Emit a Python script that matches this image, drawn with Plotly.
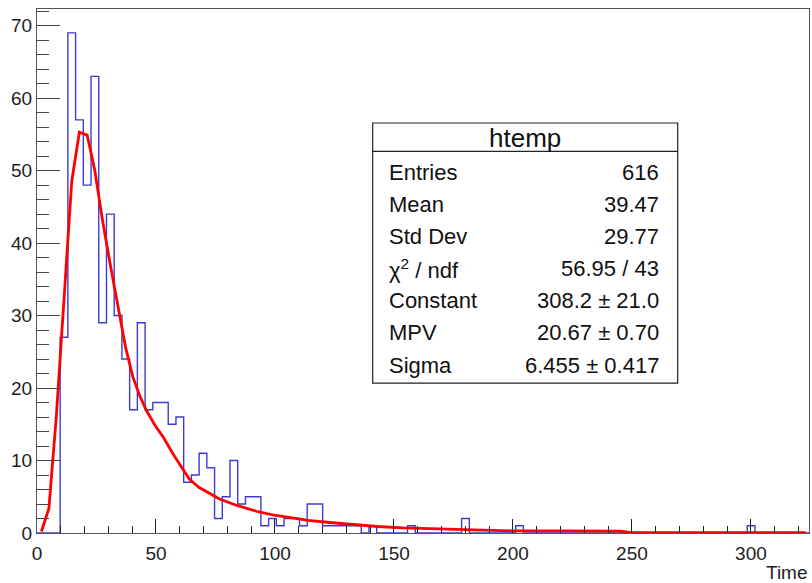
import numpy as np
import plotly.graph_objects as go

# ---------------- data ----------------
x_min, x_max, n_bins = 0.0, 324.4, 100
counts = [0, 0, 0, 27, 69, 57, 48, 63, 29, 44,
          30, 24, 17, 29, 17, 18, 18, 15, 16, 7,
          8, 11, 9, 2, 5, 10, 4, 5, 5, 1,
          2, 1, 2, 2, 1, 4, 4, 1, 1, 1,
          1, 1, 0, 1, 0, 0, 0, 0, 1, 0,
          0, 0, 0, 0, 0, 2, 0, 0, 0, 0,
          0, 0, 1, 0, 0, 0, 0, 0, 0, 0,
          0, 0, 0, 0, 0, 0, 0, 0, 0, 0,
          0, 0, 0, 0, 0, 0, 0, 0, 0, 0,
          0, 0, 1, 0, 0, 0, 0, 0, 0, 0]

fit_x = [1.85, 5.0, 8.1, 11.4, 14.6, 17.8, 21.1, 24.3, 27.6, 30.8, 34.1, 37.3,
         40.3, 43.2, 46.0, 49.5, 52.9, 57.0, 61.3, 64.1, 68.0, 72.6, 76.7, 84.0,
         92.2, 99.0, 106.2, 114.0, 122.9, 132.8, 143.0, 153.8, 170.0, 188.8,
         199.0, 220.0, 245.0, 250.0, 280.0, 323.0]
fit_y = [0.2, 3.4, 16.0, 32.5, 48.5, 55.3, 54.9, 50.0, 43.0, 37.0, 31.0, 25.5,
         21.5, 18.9, 16.9, 14.9, 13.3, 11.0, 8.8, 7.4, 6.3, 5.5, 4.7, 3.8,
         3.0, 2.5, 2.1, 1.75, 1.45, 1.15, 0.9, 0.7, 0.55, 0.46,
         0.3, 0.28, 0.25, 0.06, 0.05, 0.04]

x_ticks = [0, 50, 100, 150, 200, 250, 300]
y_ticks = [0, 10, 20, 30, 40, 50, 60, 70]
x_title = "Time"

stats_title = "htemp"
stats_names = ["Entries", "Mean", "Std Dev", "χ<sup>2</sup> / ndf", "Constant", "MPV", "Sigma"]
stats_values = ["616", "39.47", "29.77", "56.95 / 43", "308.2 ± 21.0", "20.67 ± 0.70", "6.455 ± 0.417"]

# ---------------- figure ----------------
W, H = 812, 583
L, R, T, B = 37.3, 2.7, 9.3, 49.7
PW, PH = W - L - R, H - T - B

def px(x):
    return (x - L) / PW

def py(y):
    return (H - B - y) / PH

edges = np.linspace(x_min, x_max, n_bins + 1)
step_x = list(edges)
step_y = list(counts) + [counts[-1]]

fig = go.Figure()
fig.add_trace(go.Scatter(x=step_x, y=step_y, mode="lines", line_shape="hv",
                         line=dict(color="#3c3cd4", width=1.4), hoverinfo="skip"))
fig.add_trace(go.Scatter(x=fit_x, y=fit_y, mode="lines",
                         line=dict(color="#ff0000", width=2.8), hoverinfo="skip"))

font_family = "Liberation Sans, Arial, Helvetica, sans-serif"
fig.update_layout(
    width=W, height=H,
    margin=dict(l=L, r=R, t=T, b=B, pad=0),
    paper_bgcolor="white", plot_bgcolor="white",
    showlegend=False,
    font=dict(family=font_family, color="#222222", size=19),
    xaxis=dict(range=[x_min, x_max], tickvals=x_ticks, ticks="inside", ticklen=14,
               tickcolor="#222", tickwidth=1, ticklabelstandoff=3,
               minor=dict(dtick=10, tick0=0, ticks="inside", ticklen=7, tickcolor="#222"),
               showline=True, linecolor="#555", linewidth=1.2, mirror=True,
               showgrid=False, zeroline=False, tickfont=dict(size=19)),
    yaxis=dict(range=[0, 72.3], tickvals=y_ticks, ticks="inside", ticklen=23,
               tickcolor="#444", tickwidth=1,
               minor=dict(dtick=2, tick0=0, ticks="inside", ticklen=12, tickcolor="#444"),
               showline=True, linecolor="#555", linewidth=1.2, mirror=True,
               showgrid=False, zeroline=False, tickfont=dict(size=19)),
)

# axis title "Time" (right-aligned under axis)
fig.add_annotation(x=px(810), y=py(573), xref="paper", yref="paper", text=x_title,
                   showarrow=False, xanchor="right", yanchor="middle",
                   font=dict(size=19, family=font_family, color="#222"))

# stats box
bx0, bx1, by0, by1, bsep = 373, 678, 123.3, 383.5, 151.7
fig.add_shape(type="rect", xref="paper", yref="paper",
              x0=px(bx0), x1=px(bx1), y0=py(by1), y1=py(by0),
              line=dict(color="#222", width=1.2), fillcolor="white", layer="above")
fig.add_shape(type="line", xref="paper", yref="paper",
              x0=px(bx0), x1=px(bx1), y0=py(bsep), y1=py(bsep),
              line=dict(color="#222", width=1.2), layer="above")
fig.add_annotation(x=px((bx0 + bx1) / 2), y=py(138), xref="paper", yref="paper",
                   text=stats_title, showarrow=False, xanchor="center", yanchor="middle",
                   font=dict(size=26, family=font_family, color="#111"))
row_y = [173, 205, 237, 269, 301, 333, 366]
for name, val, yy in zip(stats_names, stats_values, row_y):
    fig.add_annotation(x=px(387), y=py(yy), xref="paper", yref="paper", text=name,
                       showarrow=False, xanchor="left", yanchor="middle",
                       font=dict(size=22, family=font_family, color="#111"))
    fig.add_annotation(x=px(661), y=py(yy), xref="paper", yref="paper", text=val,
                       showarrow=False, xanchor="right", yanchor="middle",
                       font=dict(size=22, family=font_family, color="#111"))

fig.write_html("out.html")
